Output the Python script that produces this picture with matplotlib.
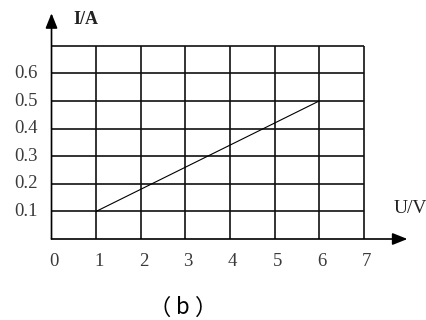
import matplotlib
matplotlib.use("Agg")
import matplotlib.pyplot as plt

# data
u_ticks = [0, 1, 2, 3, 4, 5, 6, 7]
i_ticks = [0.1, 0.2, 0.3, 0.4, 0.5, 0.6]
i_top = 0.7
line_u = [1, 6]
line_i = [0.1, 0.5]
x_label = "U/V"
y_label = "I/A"
caption = "（b）"

fig = plt.figure(figsize=(4.27, 3.2), dpi=100)
ax = fig.add_axes([0, 0, 1, 1])
ax.set_xlim(-1.155, 8.419)
ax.set_ylim(-0.2935, 0.866)
ax.axis("off")

serif = "Liberation Serif"
grid_kw = dict(color="#111111", lw=1.2, solid_capstyle="butt")

# grid
for u in u_ticks[1:]:
    ax.plot([u, u], [0, i_top], **grid_kw)
for i in i_ticks + [i_top]:
    ax.plot([u_ticks[0], u_ticks[-1]], [i, i], **grid_kw)

# axes with arrows
arrow = dict(arrowstyle="-|>,head_width=0.3,head_length=0.75", lw=1.2, color="black",
             mutation_scale=12, shrinkA=0, shrinkB=0)
ax.annotate("", xy=(0, 0.818), xytext=(0, 0), arrowprops=arrow)
ax.annotate("", xy=(7.98, 0), xytext=(0, 0), arrowprops=arrow)

# data line
ax.plot(line_u, line_i, color="black", lw=0.8)

# tick labels
for u in u_ticks:
    ax.text(u + 0.06, -0.083, str(u), family=serif, fontsize=13.5, color="#3a3a3a",
            ha="center", va="center")
for i in i_ticks:
    ax.text(-0.583, i, f"{i:.1f}", family=serif, fontsize=13.5, color="#3a3a3a",
            ha="center", va="center")

ax.text(0.489, 0.795, y_label, family=serif, fontsize=13, fontweight="bold",
        color="#222222", ha="left", va="center")
ax.text(7.68, 0.109, x_label, family=serif, fontsize=14, color="#222222",
        ha="left", va="center")

# caption, drawn char by char so the full-width brackets keep their gap
cjk = ["Noto Sans CJK SC", "DejaVu Sans"]
for ch, cx in zip(caption, [2.42, 2.937, 3.47]):
    ax.text(cx, -0.25, ch, family=cjk, fontsize=16, ha="center", va="center")

fig.savefig("out.png", dpi=100)
